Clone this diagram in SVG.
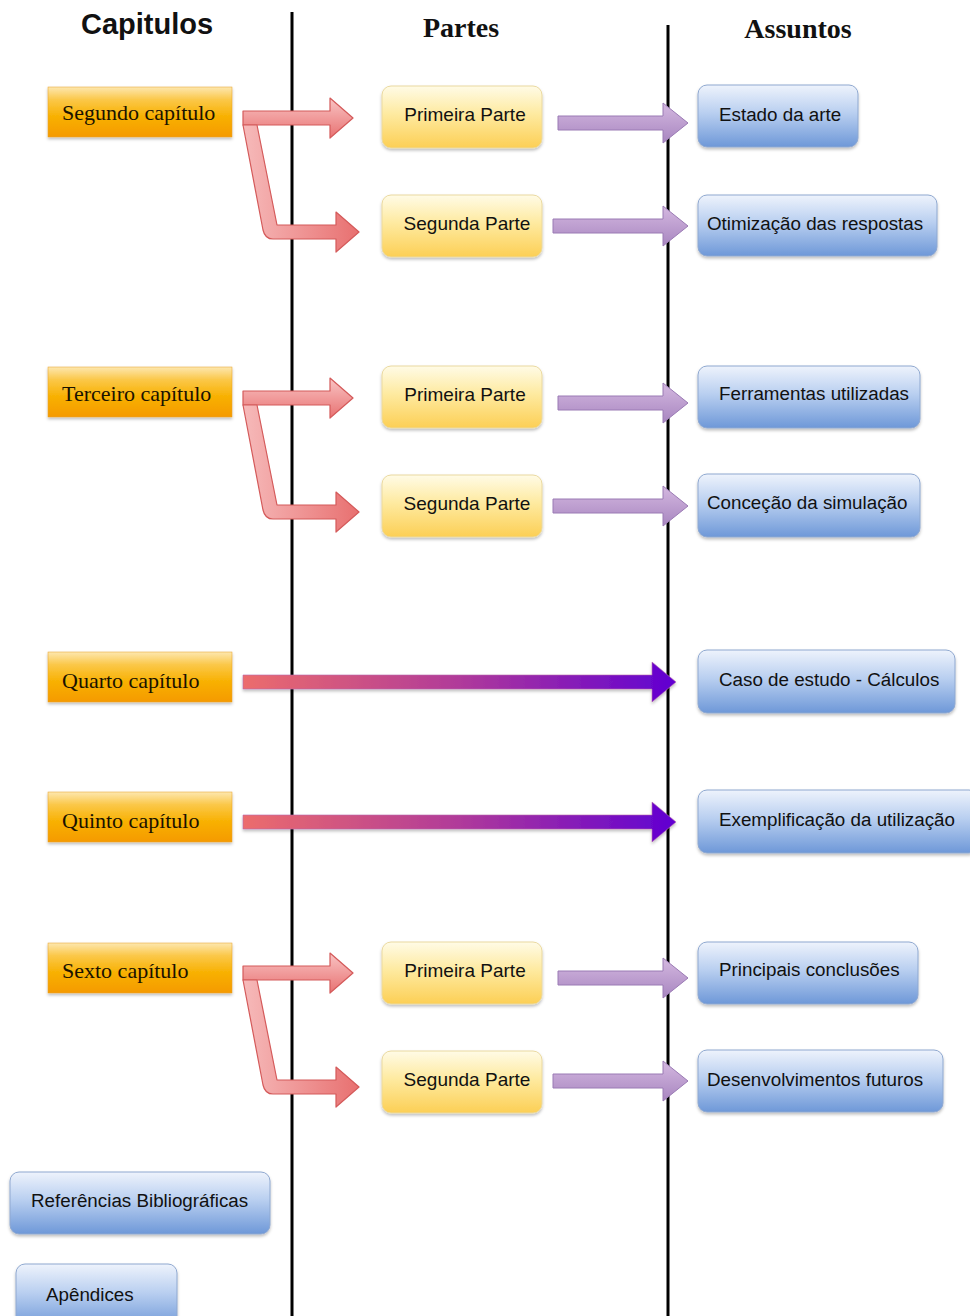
<svg xmlns="http://www.w3.org/2000/svg" width="970" height="1316" viewBox="0 0 970 1316">
<defs>
<linearGradient id="gOr" x1="0" y1="0" x2="0" y2="1">
<stop offset="0" stop-color="#fde7b0"/><stop offset="0.25" stop-color="#fbc84a"/><stop offset="0.6" stop-color="#f8b000"/><stop offset="1" stop-color="#f59a00"/>
</linearGradient>
<linearGradient id="gYe" x1="0" y1="0" x2="0" y2="1">
<stop offset="0" stop-color="#fffbe6"/><stop offset="0.45" stop-color="#feeaa0"/><stop offset="1" stop-color="#fccf55"/>
</linearGradient>
<linearGradient id="gBl" x1="0" y1="0" x2="0" y2="1">
<stop offset="0" stop-color="#eef3fc"/><stop offset="0.45" stop-color="#b9cff0"/><stop offset="1" stop-color="#6e98d8"/>
</linearGradient>
<linearGradient id="gRed" x1="0" y1="0" x2="0" y2="1">
<stop offset="0" stop-color="#f9c4c4"/><stop offset="1" stop-color="#e87272"/>
</linearGradient>
<linearGradient id="gRed2" x1="0" y1="0" x2="1" y2="0">
<stop offset="0" stop-color="#f6baba"/><stop offset="1" stop-color="#e87070"/>
</linearGradient>
<linearGradient id="gPu" x1="0" y1="0" x2="0" y2="1">
<stop offset="0" stop-color="#d4b8e0"/><stop offset="1" stop-color="#a886c0"/>
</linearGradient>
<linearGradient id="gBig" x1="243" y1="0" x2="676" y2="0" gradientUnits="userSpaceOnUse">
<stop offset="0" stop-color="#ec6c6c"/><stop offset="0.5" stop-color="#b03a9a"/><stop offset="1" stop-color="#6000d2"/>
</linearGradient>
<filter id="sh" x="-10%" y="-10%" width="120%" height="130%">
<feDropShadow dx="0" dy="2" stdDeviation="1.5" flood-color="#000" flood-opacity="0.25"/>
</filter>
</defs>
<style>
.hs{font-family:"Liberation Sans",Arial,sans-serif;font-weight:bold;font-size:29px;fill:#111}
.hr{font-family:"Liberation Serif","Times New Roman",serif;font-weight:bold;font-size:28px;fill:#111}
.ch{font-family:"Liberation Serif","Times New Roman",serif;font-size:22px;fill:#1a1200}
.t{font-family:"Liberation Sans",Arial,sans-serif;font-size:18.8px;fill:#111}
.tp{font-family:"Liberation Sans",Arial,sans-serif;font-size:19px;fill:#111}
.or{fill:url(#gOr);stroke:#e8a020;stroke-width:0.5;filter:url(#sh)}
.ye{fill:url(#gYe);stroke:#ead9a0;stroke-width:1;filter:url(#sh)}
.bl{fill:url(#gBl);stroke:#8fa8d0;stroke-width:1;filter:url(#sh)}
.ar{fill:url(#gRed);stroke:#d45a5a;stroke-width:1.2;stroke-linejoin:round}
.ar2{fill:url(#gRed2);stroke:#d45a5a;stroke-width:1.2;stroke-linejoin:round}
.ap{fill:url(#gPu);stroke:#9a7ab4;stroke-width:1;stroke-linejoin:round}
.ab{fill:url(#gBig);stroke:#b86ab0;stroke-width:0.6;filter:url(#sh)}
.vl{stroke:#000;stroke-width:3}
</style>

<g id="headers">
<text class="hs" x="147" y="34" text-anchor="middle">Capitulos</text>
<text class="hr" x="461" y="37" text-anchor="middle">Partes</text>
<text class="hr" x="798" y="38" text-anchor="middle">Assuntos</text>
</g>

<g id="lines">
<line class="vl" x1="292" y1="12" x2="292" y2="1316"/>
<line class="vl" x1="668" y1="25" x2="668" y2="1316"/>
</g>

<g id="connectors">
<!-- Segundo capitulo -->
<polygon class="ar" points="243,111 330,111 330,98 353,118 330,138 330,125 243,125"/>
<path class="ar2" d="M243,125 L257,125 L277,225 L336,225 L336,212 L359,232 L336,252 L336,239 L273,239 Q265,239 263,230 Z"/>
<polygon class="ap" points="558,116 663,116 663,103 688,123 663,143 663,130 558,130"/>
<polygon class="ap" points="553,219 663,219 663,206 688,226 663,246 663,233 553,233"/>
<!-- Terceiro capitulo -->
<g transform="translate(0,280)">
<polygon class="ar" points="243,111 330,111 330,98 353,118 330,138 330,125 243,125"/>
<path class="ar2" d="M243,125 L257,125 L277,225 L336,225 L336,212 L359,232 L336,252 L336,239 L273,239 Q265,239 263,230 Z"/>
<polygon class="ap" points="558,116 663,116 663,103 688,123 663,143 663,130 558,130"/>
<polygon class="ap" points="553,219 663,219 663,206 688,226 663,246 663,233 553,233"/>
</g>
<!-- Quarto / Quinto -->
<polygon class="ab" points="243,675 652,675 652,662 676,682 652,702 652,689 243,689"/>
<polygon class="ab" points="243,815 652,815 652,802 676,822 652,842 652,829 243,829"/>
<!-- Sexto capitulo -->
<g transform="translate(0,855)">
<polygon class="ar" points="243,111 330,111 330,98 353,118 330,138 330,125 243,125"/>
<path class="ar2" d="M243,125 L257,125 L277,225 L336,225 L336,212 L359,232 L336,252 L336,239 L273,239 Q265,239 263,230 Z"/>
<polygon class="ap" points="558,116 663,116 663,103 688,123 663,143 663,130 558,130"/>
<polygon class="ap" points="553,219 663,219 663,206 688,226 663,246 663,233 553,233"/>
</g>
</g>

<g id="cap2"><rect class="or" x="48" y="87" width="184" height="50"/><text class="ch" x="62" y="120">Segundo capítulo</text></g>
<g id="cap3"><rect class="or" x="48" y="367" width="184" height="50"/><text class="ch" x="62" y="401">Terceiro capítulo</text></g>
<g id="cap4"><rect class="or" x="48" y="652" width="184" height="50"/><text class="ch" x="62" y="688">Quarto capítulo</text></g>
<g id="cap5"><rect class="or" x="48" y="792" width="184" height="50"/><text class="ch" x="62" y="828">Quinto capítulo</text></g>
<g id="cap6"><rect class="or" x="48" y="943" width="184" height="50"/><text class="ch" x="62" y="978">Sexto capítulo</text></g>

<g id="p2a"><rect class="ye" x="382" y="86" width="160" height="62" rx="9"/><text class="tp" x="465" y="121" text-anchor="middle">Primeira Parte</text></g>
<g id="p2b"><rect class="ye" x="382" y="195" width="160" height="62" rx="9"/><text class="tp" x="467" y="230" text-anchor="middle">Segunda Parte</text></g>
<g id="p3a"><rect class="ye" x="382" y="366" width="160" height="62" rx="9"/><text class="tp" x="465" y="401" text-anchor="middle">Primeira Parte</text></g>
<g id="p3b"><rect class="ye" x="382" y="475" width="160" height="62" rx="9"/><text class="tp" x="467" y="510" text-anchor="middle">Segunda Parte</text></g>
<g id="p6a"><rect class="ye" x="382" y="942" width="160" height="62" rx="9"/><text class="tp" x="465" y="977" text-anchor="middle">Primeira Parte</text></g>
<g id="p6b"><rect class="ye" x="382" y="1051" width="160" height="62" rx="9"/><text class="tp" x="467" y="1086" text-anchor="middle">Segunda Parte</text></g>

<g id="a1"><rect class="bl" x="698" y="85" width="160" height="62" rx="9"/><text class="t" x="719" y="121">Estado da arte</text></g>
<g id="a2"><rect class="bl" x="698" y="195" width="239" height="61" rx="9"/><text class="t" x="707" y="230">Otimização das respostas</text></g>
<g id="a3"><rect class="bl" x="698" y="366" width="222" height="62" rx="9"/><text class="t" x="719" y="400">Ferramentas utilizadas</text></g>
<g id="a4"><rect class="bl" x="698" y="474" width="222" height="63" rx="9"/><text class="t" x="707" y="509">Conceção da simulação</text></g>
<g id="a5"><rect class="bl" x="698" y="650" width="257" height="63" rx="9"/><text class="t" x="719" y="686">Caso de estudo - Cálculos</text></g>
<g id="a6"><rect class="bl" x="698" y="790" width="280" height="63" rx="9"/><text class="t" x="719" y="826">Exemplificação da utilização</text></g>
<g id="a7"><rect class="bl" x="698" y="942" width="220" height="62" rx="9"/><text class="t" x="719" y="976">Principais conclusões</text></g>
<g id="a8"><rect class="bl" x="698" y="1050" width="245" height="62" rx="9"/><text class="t" x="707" y="1086">Desenvolvimentos futuros</text></g>
<g id="refs"><rect class="bl" x="10" y="1172" width="260" height="62" rx="9"/><text class="t" x="31" y="1207">Referências Bibliográficas</text></g>
<g id="apend"><rect class="bl" x="16" y="1264" width="161" height="64" rx="9"/><text class="t" x="46" y="1301">Apêndices</text></g>
</svg>
